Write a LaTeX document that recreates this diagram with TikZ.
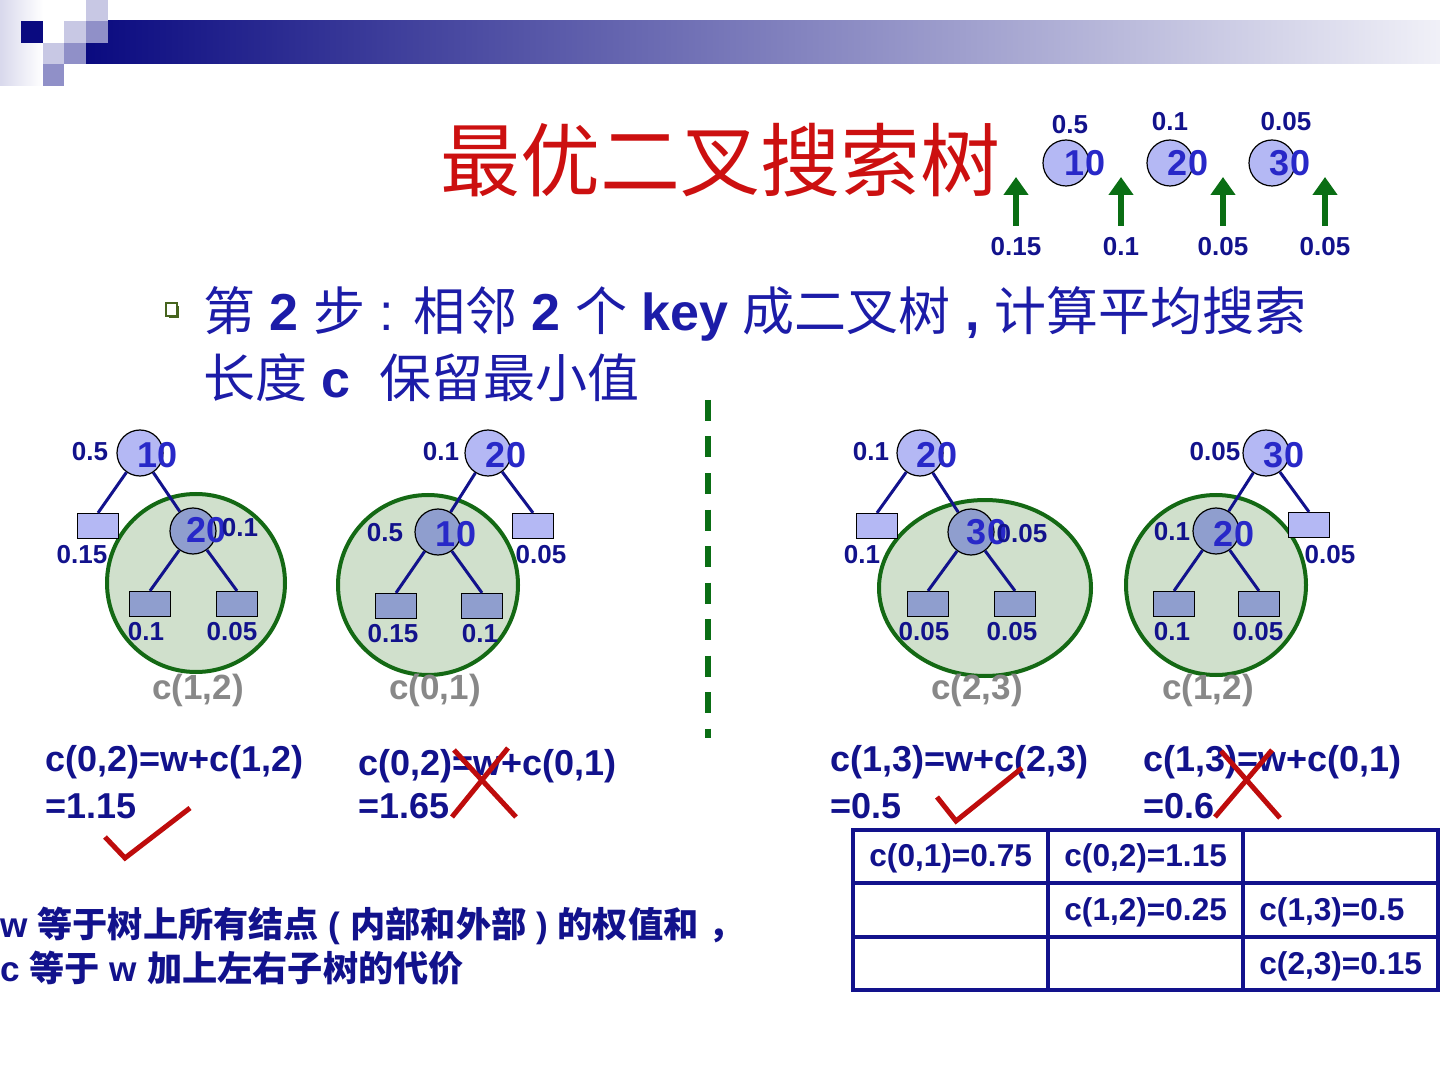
\documentclass[tikz,border=0pt]{standalone}
\usepackage{fontspec}
\setmainfont{Liberation Sans}
\newfontfamily\cjk{Noto Sans CJK SC}
\usetikzlibrary{shapes.geometric,arrows.meta}
\definecolor{navy}{RGB}{18,18,140}
\definecolor{keyblue}{RGB}{40,40,200}
\definecolor{lav}{RGB}{180,184,244}
\definecolor{innerf}{RGB}{143,158,206}
\definecolor{gfill}{RGB}{208,224,204}
\definecolor{gline}{RGB}{20,105,20}
\definecolor{agreen}{RGB}{10,110,20}
\definecolor{titlered}{RGB}{204,16,16}
\definecolor{markred}{RGB}{190,12,12}
\definecolor{cgray}{RGB}{136,136,136}
\definecolor{bulblue}{RGB}{28,28,168}
\definecolor{hdark}{RGB}{10,10,128}
\definecolor{hlight}{RGB}{200,200,228}
\definecolor{hmid}{RGB}{144,144,200}
\definecolor{bulgreen}{RGB}{70,100,30}
\tikzset{
 rootc/.style={circle,draw=black,line width=0.6pt,fill=lav,minimum size=23pt,inner sep=0pt},
 innerc/.style={rootc,fill=innerf},
 leafo/.style={rectangle,draw=black,line width=0.6pt,fill=lav,minimum width=20.5pt,minimum height=12.5pt,inner sep=0pt},
 leafi/.style={leafo,fill=innerf},
 kl/.style={font=\bfseries\fontsize{18}{18}\selectfont,text=keyblue,inner sep=0pt},
 wl/.style={font=\bfseries\fontsize{13}{13}\selectfont,text=navy,inner sep=0pt},
 cl/.style={font=\bfseries\fontsize{17.5}{17.5}\selectfont,text=cgray,inner sep=0pt},
 tedge/.style={draw=navy,line width=1.5pt},
 blob/.style={circle,draw=gline,line width=2pt,fill=gfill,inner sep=0pt},
 blobe/.style={ellipse,draw=gline,line width=2pt,fill=gfill,inner sep=0pt},
 fl/.style={font=\bfseries\fontsize{18}{18}\selectfont,text=navy,anchor=west,inner sep=0pt},
 redmark/.style={draw=markred,line width=2.5pt},
 garrow/.style={draw=agreen,line width=3pt,-{Triangle[width=12pt,length=9pt]}},
 cell/.style={rectangle,draw=navy,line width=2pt,minimum width=97.5pt,minimum height=26.75pt,inner sep=0pt},
 ctext/.style={font=\bfseries\fontsize{15.8}{15.8}\selectfont,text=navy,anchor=west,inner sep=0pt},
 notetext/.style={font=\bfseries\fontsize{17.6}{17.6}\selectfont,text=navy,anchor=west,inner sep=0pt},
 bultext/.style={font=\fontsize{26}{26}\selectfont,text=bulblue,anchor=west,inner sep=0pt},
}
\begin{document}
\begin{tikzpicture}[x=0.5pt,y=-0.5pt]
\useasboundingbox (0,0) rectangle (1440,1080);
\fill[white] (0,0) rectangle (1440,1080);
% header
\shade[left color=hlight!70,right color=white] (0,0) rectangle (43,86);
\shade[left color=hdark,right color=white!94!hdark] (86,21) rectangle (1440,64);
\fill[hdark] (21,21) rectangle (43,43);
\fill[hlight] (64,21) rectangle (86,43);
\fill[hlight] (86,0) rectangle (108,21);
\fill[hmid] (86,21) rectangle (108,43);
\fill[hlight] (43,43) rectangle (64,64);
\fill[hmid] (64,43) rectangle (86,64);
\fill[hmid] (43,64) rectangle (64,86);
% title
\node[font=\cjk\fontsize{40}{40}\selectfont,text=titlered,inner sep=0pt] (title) at (720,160) {最优二叉搜索树};
% top keys
\node[rootc] (k1) at (1066,163) {};
\node[rootc] (k2) at (1170,163) {};
\node[rootc] (k3) at (1272,163) {};
\node[kl] (k1l) at (1085,163) {10};
\node[kl] (k2l) at (1188,163) {20};
\node[kl] (k3l) at (1290,163) {30};
\node[wl] (k1w) at (1070,125) {0.5};
\node[wl] (k2w) at (1170,122) {0.1};
\node[wl] (k3w) at (1286,122) {0.05};
\node[wl] (e0) at (1016,247) {0.15};
\node[wl] (e1) at (1121,247) {0.1};
\node[wl] (e2) at (1223,247) {0.05};
\node[wl] (e3) at (1325,247) {0.05};
\foreach \i/\xx in {0/1016,1/1121,2/1223,3/1325}{
  \coordinate (as\i) at (\xx,226);
  \coordinate (ae\i) at (\xx,177);
  \draw[garrow] (as\i) -- (ae\i);
}
% bullet
\draw[bulgreen,line width=0.8pt] (166,303) rectangle (177,316);
\draw[bulgreen,line width=1.2pt] (169,317) -- (178,317) -- (178,306);
\node[bultext] (b1) at (203,314)
 {{\cjk 第} \textbf{2} {\cjk 步} : {\cjk 相邻} \textbf{2} {\cjk 个} \textbf{key} {\cjk 成二叉树}\textbf{ , }{\cjk 计算平均搜索}};
\node[bultext] (b2) at (203,378)
 {{\cjk 长度} \textbf{c}\ \ {\cjk 保留最小值}};
% divider
\coordinate (dvt) at (708,400);
\coordinate (dvb) at (708,738);
\draw[agreen,line width=3pt,dash pattern=on 10.5pt off 7.75pt] (dvt) -- (dvb);
% tree 1
\node[blob,minimum size=89pt] (g1) at (196,583) {};
\node[rootc] (t1r) at (140,453) {};
\node[leafo] (t1a) at (98,526) {};
\node[innerc] (t1c) at (193,531) {};
\node[leafi] (t1b) at (150,604) {};
\node[leafi] (t1d) at (237,604) {};
\draw[tedge] (t1r) -- (t1a.north);
\draw[tedge] (t1r) -- (t1c);
\draw[tedge] (t1c) -- (t1b.north);
\draw[tedge] (t1c) -- (t1d.north);
\node[wl] at (90,452) {0.5};
\node[kl] at (158,455) {10};
\node[wl] at (82,555) {0.15};
\node[kl] at (207,530) {20};
\node[wl] at (240,528) {0.1};
\node[wl] at (146,632) {0.1};
\node[wl] at (232,632) {0.05};
\node[cl] at (198,690) {c(1,2)};
% tree 2
\node[blob,minimum size=90pt] (g2) at (428,585) {};
\node[rootc] (t2r) at (488,453) {};
\node[leafo] (t2a) at (533,526) {};
\node[innerc] (t2c) at (438,532) {};
\node[leafi] (t2b) at (396,606) {};
\node[leafi] (t2d) at (482,606) {};
\draw[tedge] (t2r) -- (t2a.north);
\draw[tedge] (t2r) -- (t2c);
\draw[tedge] (t2c) -- (t2b.north);
\draw[tedge] (t2c) -- (t2d.north);
\node[wl] at (441,452) {0.1};
\node[kl] at (506,455) {20};
\node[wl] at (541,555) {0.05};
\node[wl] at (385,533) {0.5};
\node[kl] at (456,534) {10};
\node[wl] at (393,634) {0.15};
\node[wl] at (480,634) {0.1};
\node[cl] at (435,690) {c(0,1)};
% tree 3
\node[blobe,minimum width=106pt,minimum height=88pt] (g3) at (985,588) {};
\node[rootc] (t3r) at (920,453) {};
\node[leafo] (t3a) at (877,526) {};
\node[innerc] (t3c) at (971,532) {};
\node[leafi] (t3b) at (928,604) {};
\node[leafi] (t3d) at (1015,604) {};
\draw[tedge] (t3r) -- (t3a.north);
\draw[tedge] (t3r) -- (t3c);
\draw[tedge] (t3c) -- (t3b.north);
\draw[tedge] (t3c) -- (t3d.north);
\node[wl] at (871,452) {0.1};
\node[kl] at (937,455) {20};
\node[wl] at (862,555) {0.1};
\node[kl] at (987,532) {30};
\node[wl] at (1022,534) {0.05};
\node[wl] at (924,632) {0.05};
\node[wl] at (1012,632) {0.05};
\node[cl] at (977,690) {c(2,3)};
% tree 4
\node[blob,minimum size=90pt] (g4) at (1216,585) {};
\node[rootc] (t4r) at (1266,453) {};
\node[leafo] (t4a) at (1309,525) {};
\node[innerc] (t4c) at (1216,531) {};
\node[leafi] (t4b) at (1174,604) {};
\node[leafi] (t4d) at (1259,604) {};
\draw[tedge] (t4r) -- (t4a.north);
\draw[tedge] (t4r) -- (t4c);
\draw[tedge] (t4c) -- (t4b.north);
\draw[tedge] (t4c) -- (t4d.north);
\node[wl] at (1215,452) {0.05};
\node[kl] at (1284,455) {30};
\node[wl] at (1330,555) {0.05};
\node[wl] at (1172,532) {0.1};
\node[kl] at (1234,534) {20};
\node[wl] at (1172,632) {0.1};
\node[wl] at (1258,632) {0.05};
\node[cl] at (1208,690) {c(1,2)};
% formulas
\node[fl] (f1a) at (45,762) {c(0,2)=w+c(1,2)};
\node[fl] (f1b) at (45,806) {=1.15};
\node[fl] (f2a) at (358,766) {c(0,2)=w+c(0,1)};
\node[fl] (f2b) at (358,806) {=1.65};
\node[fl] (f3a) at (830,762) {c(1,3)=w+c(2,3)};
\node[fl] (f3b) at (830,806) {=0.5};
\node[fl] (f4a) at (1143,762) {c(1,3)=w+c(0,1)};
\node[fl] (f4b) at (1143,806) {=0.6};
% marks
\draw[redmark] (105,837) -- (125,858) -- (190,808);
\draw[redmark] (454,750) -- (516,817);
\draw[redmark] (508,748) -- (452,817);
\draw[redmark] (937,797) -- (956,821) -- (1022,768);
\draw[redmark] (1221,751) -- (1280,818);
\draw[redmark] (1272,750) -- (1215,817);
% table
\node[cell] (c11) at (950.5,856.5) {};
\node[cell] (c12) at (1145.5,856.5) {};
\node[cell] (c13) at (1340.5,856.5) {};
\node[cell] (c21) at (950.5,910) {};
\node[cell] (c22) at (1145.5,910) {};
\node[cell] (c23) at (1340.5,910) {};
\node[cell] (c31) at (950.5,963.5) {};
\node[cell] (c32) at (1145.5,963.5) {};
\node[cell] (c33) at (1340.5,963.5) {};
\node[ctext] at (869,858) {c(0,1)=0.75};
\node[ctext] at (1064,858) {c(0,2)=1.15};
\node[ctext] at (1064,912) {c(1,2)=0.25};
\node[ctext] at (1259,912) {c(1,3)=0.5};
\node[ctext] at (1259,966) {c(2,3)=0.15};
% note
\node[notetext] (n1) at (0,926)
 {w {\cjk\bfseries 等于树上所有结点} ( {\cjk\bfseries 内部和外部} ) {\cjk\bfseries 的权值和} {\cjk\bfseries ，}};
\node[notetext] (n2) at (0,968)
 {c {\cjk\bfseries 等于} w {\cjk\bfseries 加上左右子树的代价}};
\end{tikzpicture}
\end{document}
